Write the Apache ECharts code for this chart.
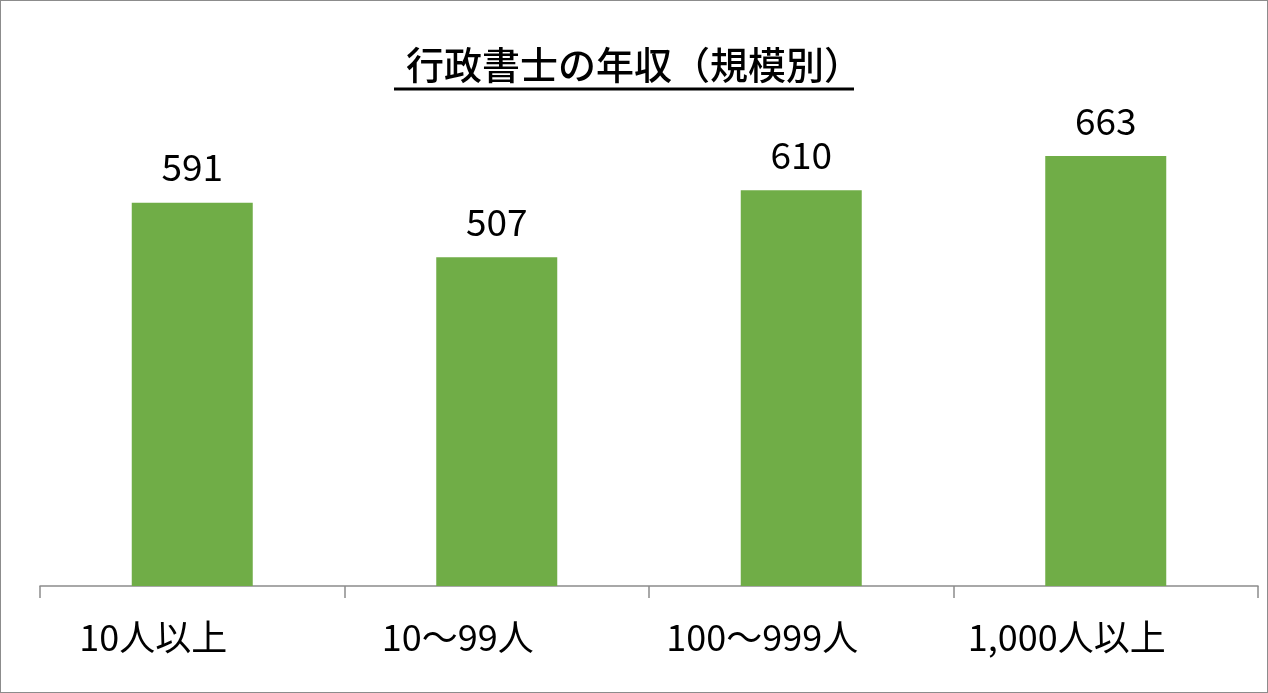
<!DOCTYPE html>
<html><head><meta charset="utf-8">
<script src="https://cdn.jsdelivr.net/npm/echarts@6/dist/echarts.min.js"></script>
<style>html,body{margin:0;padding:0;background:#fff}#c{width:1268px;height:693px;box-sizing:border-box;border:1.5px solid #8c8c8c}</style>
</head><body><div id="c"></div>
<script>
const categories = ['10人以上','10～99人','100～999人','1,000人以上'];
const values = [591, 507, 610, 663];
const titleText = '行政書士の年収（規模別）';
const font = '"Noto Sans CJK JP", "Noto Sans", sans-serif';
const chart = echarts.init(document.getElementById('c'));
chart.setOption({
  animation:false,
  title:{text:titleText,left:'center',top:40,textStyle:{fontFamily:font,fontSize:38,fontWeight:500,color:'#000'}},
  graphic:[{type:'line',shape:{x1:393,y1:88,x2:853,y2:88},style:{stroke:'#000',lineWidth:3}}],
  grid:{left:39,right:9,top:131,bottom:106},
  xAxis:{type:'category',data:categories,
    axisLine:{lineStyle:{color:'#8c8c8c',width:1.5}},
    axisTick:{show:true,length:12,lineStyle:{color:'#8c8c8c',width:1.5}},
    axisLabel:{fontFamily:font,fontSize:36,color:'#000',margin:33,padding:[0,78,0,0]}},
  yAxis:{type:'value',min:0,max:700,show:false,splitLine:{show:false}},
  series:[{type:'bar',data:values,barWidth:121,itemStyle:{color:'#70ad47'},
    label:{show:true,position:'top',distance:17,fontFamily:font,fontSize:37,color:'#000'}}]
});
</script></body></html>
